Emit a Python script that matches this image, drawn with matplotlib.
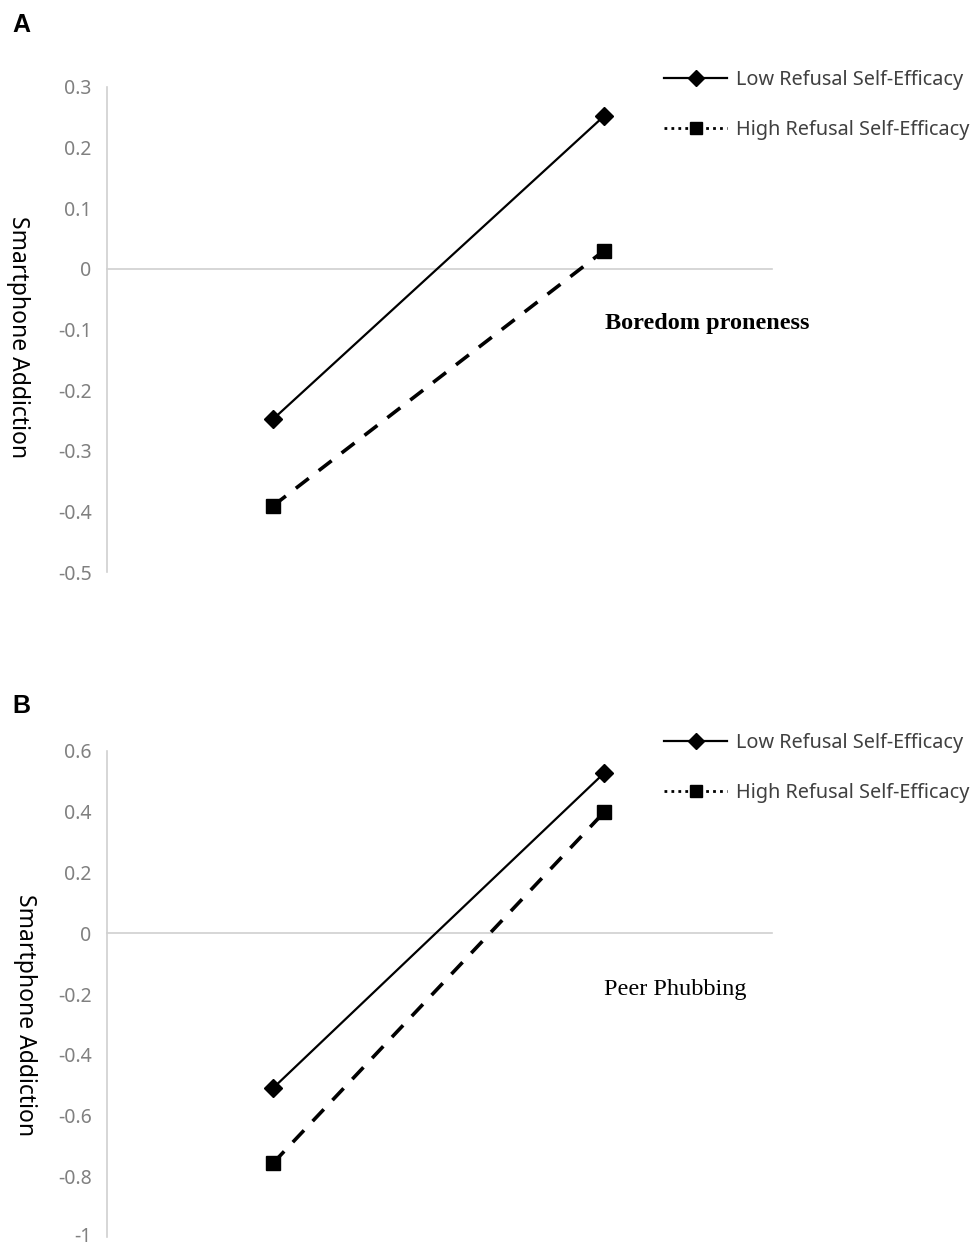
import matplotlib
matplotlib.use("Agg")
import matplotlib.pyplot as plt
import matplotlib.transforms as mtransforms
from matplotlib.lines import Line2D

# Data
levels = ["Low", "High"]  # predictor level (x positions)
a_low_rse = [-0.248, 0.252]
a_high_rse = [-0.391, 0.030]
b_low_rse = [-0.510, 0.527]
b_high_rse = [-0.757, 0.398]
a_yticks = [0.3, 0.2, 0.1, 0, -0.1, -0.2, -0.3, -0.4, -0.5]
b_yticks = [0.6, 0.4, 0.2, 0, -0.2, -0.4, -0.6, -0.8, -1]
series_labels = ["Low Refusal Self-Efficacy", "High Refusal Self-Efficacy"]

W, H = 972, 1245
fig = plt.figure(figsize=(W / 100, H / 100), dpi=100)

tick_col = "#808080"
axis_col = "#d0d0d0"


def fmt(v):
    if v == 0:
        return "0"
    if float(v).is_integer():
        return str(int(v))
    return ("%g" % v)


def panel(top_px, bot_px, ymin, ymax, yticks, low, high, letter, letter_y,
          ylabel_x, ylabel_y, note, note_xy, note_bold, note_size, leg_y):
    left_px, right_px = 107, 772
    ax = fig.add_axes([left_px / W, 1 - bot_px / H, (right_px - left_px) / W,
                       (bot_px - top_px) / H])
    x = list(range(len(levels)))
    ax.plot(x, low, color="black", lw=1.6, marker="D", ms=9, zorder=3)
    ax.plot(x, high, color="black", lw=2.6, ls=(0, (4.5, 3.5)), marker="s",
            ms=10, zorder=3)
    ax.set_xlim(-0.5015, 1.5076)
    ax.set_ylim(ymin, ymax)
    ax.set_yticks(yticks)
    ax.set_yticklabels([fmt(v) for v in yticks], color=tick_col,
                       fontsize=14, family="Noto Sans")
    ax.tick_params(axis="y", length=0, pad=11)
    ax.set_xticks([])
    for s in ["top", "right"]:
        ax.spines[s].set_visible(False)
    ax.spines["left"].set_color(axis_col)
    ax.spines["left"].set_linewidth(1.2)
    ax.spines["bottom"].set_position(("data", 0))
    ax.spines["bottom"].set_color(axis_col)
    ax.spines["bottom"].set_linewidth(1.2)
    ax.patch.set_visible(False)

    fig.text(12 / W, 1 - letter_y / H, letter, fontsize=18, fontweight="bold",
             family="Liberation Sans", va="center", ha="left")
    fig.text(ylabel_x / W, 1 - ylabel_y / H, "Smartphone Addiction",
             rotation=270, fontsize=16.5, family="Noto Sans", va="center",
             ha="center", color="black")
    fig.text(note_xy[0] / W, 1 - note_xy[1] / H, note, fontsize=note_size,
             family="Liberation Serif",
             fontweight="bold" if note_bold else "normal",
             va="center", ha="left")

    handles = [
        Line2D([], [], color="black", lw=1.6, marker="D", ms=8),
        Line2D([], [], color="black", lw=2.0, ls=(0, (1, 1.5)), marker="s",
               ms=9),
    ]
    leg = fig.legend(handles, series_labels, loc="upper left",
                     bbox_to_anchor=(646 / W, 1 - (leg_y - 25) / H),
                     frameon=False, handlelength=3.2,
                     handletextpad=0.45, labelspacing=1.5,
                     prop={"family": "Noto Sans", "size": 14.3})
    for t in leg.get_texts():
        t.set_color("#404040")
    return ax


panel(87, 572, -0.5, 0.3, a_yticks, a_low_rse, a_high_rse, "A", 25,
      18, 337, "Boredom proneness", (605, 324), True, 17.5, 77)
axb = panel(751, 1237, -1.0, 0.6, b_yticks, b_low_rse, b_high_rse, "B", 706,
            25, 1015, "Peer Phubbing", (604, 990), False, 17.5, 740)

# keep the bottom tick label inside the canvas
fig.canvas.draw()
lbl = axb.get_yticklabels()[-1]
lbl.set_transform(lbl.get_transform() + mtransforms.ScaledTranslation(0, 3 / 100, fig.dpi_scale_trans))

fig.savefig("out.png", dpi=100)
